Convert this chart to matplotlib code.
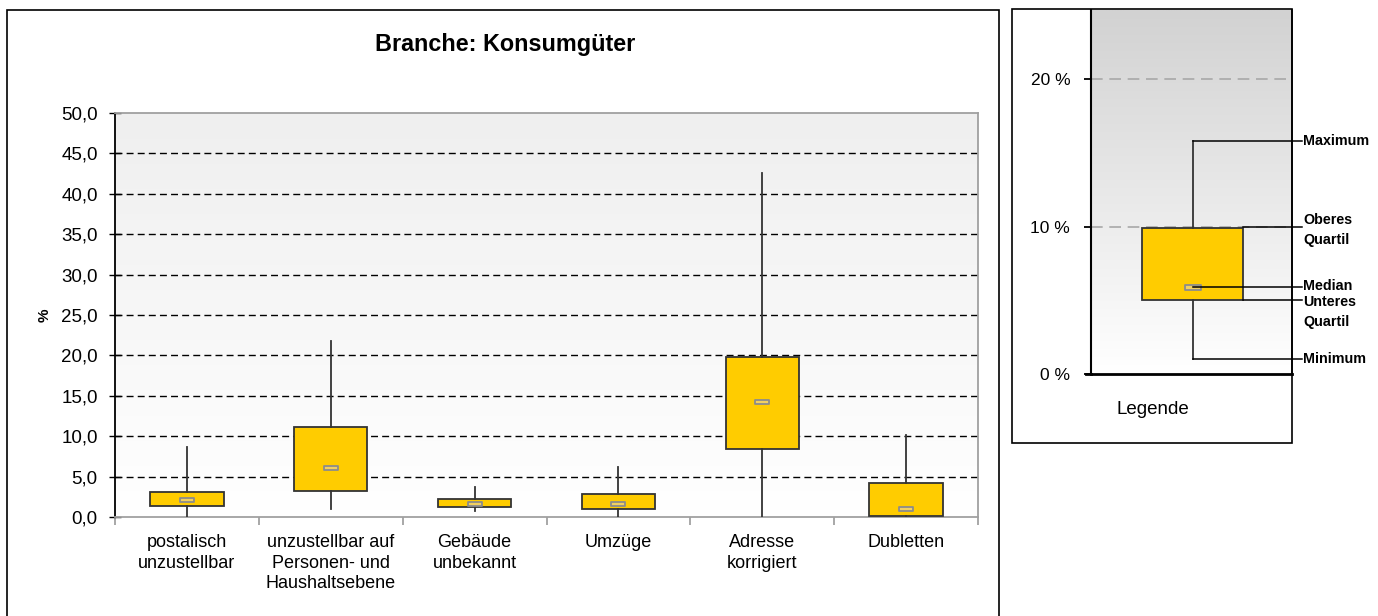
import numpy as np
import matplotlib
matplotlib.use("Agg")
import matplotlib.pyplot as plt
import matplotlib.patches as mpatches
from matplotlib.path import Path

plt.rcParams["font.family"] = ["Liberation Sans", "DejaVu Sans"]

# ── Daten ────────────────────────────────────────────────────────────────────
categories = ["postalisch\nunzustellbar",
              "unzustellbar auf\nPersonen- und\nHaushaltsebene",
              "Gebäude\nunbekannt",
              "Umzüge",
              "Adresse\nkorrigiert",
              "Dubletten"]
minimum = [0.0, 1.0, 0.8, 0.05, 0.0, 0.0]
q1      = [1.4, 3.2, 1.2, 1.0, 8.45, 0.1]
median  = [2.1, 6.1, 1.6, 1.6, 14.2, 1.05]
q3      = [3.05, 11.1, 2.27, 2.85, 19.8, 4.15]
maximum = [8.7, 21.8, 3.75, 6.15, 42.6, 10.1]

y_ticks = np.arange(0, 51, 5)

# Legende (Beispielbox)
leg_min, leg_q1, leg_med, leg_q3, leg_max = 1.0, 5.05, 5.9, 9.9, 15.8
leg_labels = ["Maximum", "Oberes\nQuartil", "Median", "Unteres\nQuartil", "Minimum"]
leg_ticks = [0, 10, 20]

TITLE = "Branche: Konsumgüter"
YELLOW = "#FFCC00"
EDGE = "#333333"

# ── Layout in Pixeln ─────────────────────────────────────────────────────────
W, H = 1378, 616
fig = plt.figure(figsize=(W / 100, H / 100), dpi=100)


def px(x0, y0, x1, y1):
    """Pixel-Box (oben links -> unten rechts) in Figure-Koordinaten."""
    return [x0 / W, 1 - y1 / H, (x1 - x0) / W, (y1 - y0) / H]


def gradient(ax, top, bottom, ymax):
    g = np.linspace(0, 1, 256).reshape(-1, 1)
    c0, c1 = np.array(matplotlib.colors.to_rgb(bottom)), np.array(matplotlib.colors.to_rgb(top))
    img = c0 + (c1 - c0) * g[..., None]
    xl = ax.get_xlim()
    ax.imshow(img, origin="lower", extent=[xl[0], xl[1], 0, ymax],
              aspect="auto", zorder=0, interpolation="bilinear")


# Rahmen
fig.add_artist(mpatches.Rectangle((7 / W, -0.1), (999 - 7) / W, 1 - 10 / H + 0.1,
                                  transform=fig.transFigure, fill=False,
                                  ec="black", lw=1.2))
fig.add_artist(mpatches.Rectangle((1012 / W, 1 - 443 / H), (1292 - 1012) / W,
                                  (443 - 9) / H, transform=fig.transFigure,
                                  fill=False, ec="black", lw=1.2))

# ── Hauptdiagramm ────────────────────────────────────────────────────────────
ax = fig.add_axes(px(115, 113, 978, 517))
ax.set_xlim(0.5, len(categories) + 0.5)
ax.set_ylim(0, 50)
gradient(ax, "#efefef", "#ffffff", 50)

stats = [dict(med=m, q1=a, q3=b, whislo=lo, whishi=hi)
         for m, a, b, lo, hi in zip(median, q1, q3, minimum, maximum)]
pos = np.arange(1, len(categories) + 1)
ax.bxp(stats, positions=pos, widths=0.51, showcaps=False, showfliers=False,
       patch_artist=True,
       boxprops=dict(facecolor=YELLOW, edgecolor=EDGE, lw=1.3),
       whiskerprops=dict(color=EDGE, lw=1.3),
       medianprops=dict(visible=False), zorder=3)

med_marker = Path([(-1, -0.3), (1, -0.3), (1, 0.3), (-1, 0.3), (-1, -0.3)],
                  [Path.MOVETO, Path.LINETO, Path.LINETO, Path.LINETO, Path.CLOSEPOLY])
ax.plot(pos, median, ls="none", marker=med_marker, ms=10, mfc="#f2d060",
        mec="#8c8c8c", mew=1.3, zorder=4)

for y in y_ticks[1:-1]:
    ax.axhline(y, color="black", lw=1, ls=(0, (5, 3)), zorder=1)

ax.set_yticks(y_ticks)
ax.set_yticklabels([f"{v:.1f}".replace(".", ",") for v in y_ticks], fontsize=13.5)
ax.tick_params(axis="y", direction="inout", length=9, width=1, pad=8, colors="black")

ax.set_xticks(pos)
ax.set_xticklabels(categories, fontsize=13, linespacing=1.3, va="top")
ax.tick_params(axis="x", which="major", length=0, pad=12)
ax.set_xticks(np.arange(0.5, len(categories) + 1), minor=True)
ax.tick_params(axis="x", which="minor", length=6, color="#999999", width=1.2)

ax.spines["left"].set_color("black")
ax.spines["left"].set_linewidth(1.3)
for s in ["top", "right", "bottom"]:
    ax.spines[s].set_color("#a0a0a0")
    ax.spines[s].set_linewidth(1.3)

fig.text(505 / W, 1 - 45 / H, TITLE, ha="center", va="center",
         fontsize=16.8, fontweight="bold")
fig.text(45 / W, 1 - 315 / H, "%", ha="center", va="center", rotation=90,
         fontsize=11, fontweight="bold")

# ── Legende ──────────────────────────────────────────────────────────────────
lx = fig.add_axes(px(1091, 10, 1292, 374))
lx.set_xlim(0, 1)
lx.set_ylim(0, 24.7)
gradient(lx, "#d2d2d2", "#ffffff", 24.7)

for y in leg_ticks[1:]:
    lx.axhline(y, color="#a8a8a8", lw=1.2, ls=(0, (7, 4)), zorder=1)

lc = 0.505
lx.bxp([dict(med=leg_med, q1=leg_q1, q3=leg_q3, whislo=leg_min, whishi=leg_max)],
       positions=[lc], widths=0.5, showcaps=False, showfliers=False,
       patch_artist=True,
       boxprops=dict(facecolor=YELLOW, edgecolor=EDGE, lw=1.3),
       whiskerprops=dict(color=EDGE, lw=1.3),
       medianprops=dict(visible=False), zorder=3)
lx.plot([lc], [leg_med], ls="none", marker=med_marker, ms=12, mfc="#f2d060",
        mec="#8c8c8c", mew=1.3, zorder=4)

# Verbindungslinien zu den Beschriftungen
x_end = 1.05
box_r = lc + 0.25
conn = [(lc, leg_max), (box_r, leg_q3 + 0.1), (lc, leg_med), (box_r, leg_q1), (lc, leg_min)]
for (x0, y), label in zip(conn, leg_labels):
    lx.plot([x0, x_end], [y, y], color="black", lw=1.1, clip_on=False, zorder=5)
text_y = [leg_max, leg_q3 + 1.0, leg_med + 0.1, leg_q1 + 0.3, leg_min]
text_va = ["center", "top", "center", "top", "center"]
for y, va, label in zip(text_y, text_va, leg_labels):
    lx.text(1.055, y, label, ha="left", va=va, fontsize=10.3, fontweight="bold",
            linespacing=1.5, clip_on=False)

lx.set_yticks(leg_ticks)
lx.set_yticklabels([f"{v} %" for v in leg_ticks], fontsize=12.5)
lx.tick_params(axis="y", direction="out", length=5, width=1.3, pad=10)
lx.set_xticks([])
lx.spines["left"].set_linewidth(1.5)
lx.spines["bottom"].set_linewidth(2)
lx.spines["top"].set_visible(False)
lx.spines["right"].set_linewidth(1.2)
lx.plot([-0.025, 0], [0, 0], color="black", lw=2, clip_on=False)

fig.text(1153 / W, 1 - 410 / H, "Legende", ha="center", va="center", fontsize=13.5)

fig.savefig("out.png", dpi=100)
